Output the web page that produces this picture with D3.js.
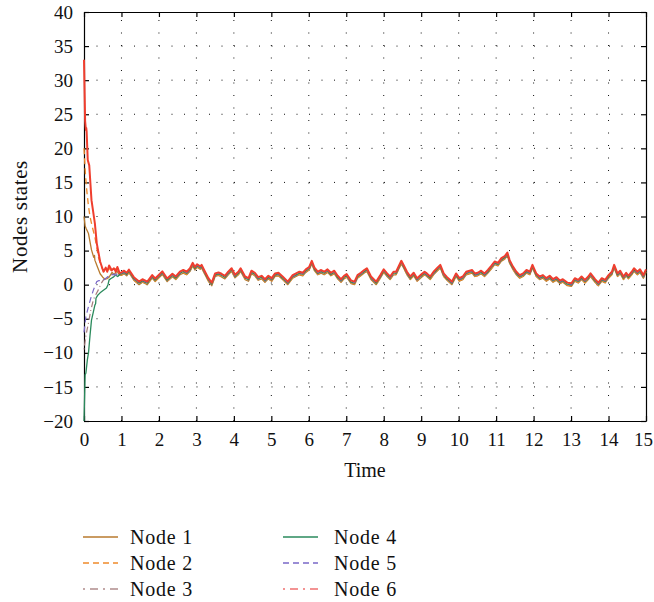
<!DOCTYPE html>
<html><head><meta charset="utf-8">
<script src="https://cdn.jsdelivr.net/npm/d3@7"></script>
<style>body{margin:0;background:#fff}</style>
</head><body>
<svg id="chart" width="654" height="602"></svg>
<script>
// ---------------- data ----------------
const xTickValues = [0,1,2,3,4,5,6,7,8,9,10,11,12,13,14,15];
const yTickValues = [-20,-15,-10,-5,0,5,10,15,20,25,30,35,40];
const nodeNames = ["Node 1","Node 2","Node 3","Node 4","Node 5","Node 6"];

// transient part of each node, [time, state]
const node1Start = [[0,10],[0.03,8.6],[0.06,8.2],[0.12,7.5],[0.2,5.1],[0.26,4.0],[0.28,4.3],[0.29,3.6],[0.36,2.6],[0.43,1.6],[0.5,1.1],[0.56,0.8],[0.62,0.9],[0.67,1.1],[0.75,1.8],[0.8,1.5],[0.88,2.0],[0.95,1.4]];
const node2Start = [[0,20],[0.04,16],[0.08,13.5],[0.12,11.5],[0.16,10],[0.22,8.5],[0.29,7],[0.34,5.5],[0.38,4.1],[0.45,2.8],[0.52,2.0],[0.6,1.8],[0.67,2.4],[0.74,1.9],[0.8,2.2],[0.88,2.4],[0.95,1.6]];
const node3Start = [[0,-9.5],[0.05,-7.5],[0.12,-5.6],[0.18,-3.8],[0.25,-2.2],[0.32,-1.4],[0.38,-0.8],[0.45,0.1],[0.52,0.7],[0.6,1.0],[0.67,1.3],[0.75,1.5],[0.82,1.6],[0.9,1.7],[0.95,1.5]];
const node4Start = [[0,-20],[0.03,-13.2],[0.05,-13],[0.06,-12.5],[0.09,-11],[0.12,-10],[0.16,-7.5],[0.2,-5.2],[0.25,-4],[0.29,-3],[0.31,-2.8],[0.32,-2],[0.36,-1.6],[0.43,-1.2],[0.5,-0.9],[0.6,-0.5],[0.64,0],[0.67,0.7],[0.72,0.9],[0.78,1.1],[0.84,1.4],[0.9,1.2],[0.97,1.6]];
const node5Start = [[0,-7],[0.05,-4.7],[0.12,-3.2],[0.18,-2.0],[0.25,-0.8],[0.34,0.45],[0.4,0.6],[0.48,0.5],[0.55,0.8],[0.62,1.1],[0.7,1.3],[0.78,1.5],[0.85,1.4],[0.92,1.7]];
const node6Start = [[0,33],[0.03,24],[0.05,22.7],[0.06,23],[0.07,22.5],[0.1,18.3],[0.14,17.5],[0.2,12.4],[0.29,9.0],[0.34,6.1],[0.43,3.4],[0.52,1.9],[0.58,2.5],[0.62,1.9],[0.67,2.8],[0.74,2.1],[0.8,2.4],[0.85,1.9],[0.89,2.6],[0.95,1.7]];

// converged trajectory (upper edge of the band = Node 6), [time, state]
const consensusTail = [[1.0,1.8],[1.07,2.05],[1.14,1.75],[1.2,2.2],[1.33,1.1],[1.47,0.45],[1.56,0.8],[1.69,0.45],[1.82,1.4],[1.9,0.9],[2.09,1.95],[2.22,0.9],[2.36,1.6],[2.45,1.2],[2.56,1.9],[2.65,2.15],[2.74,1.9],[2.83,2.4],[2.9,3.2],[2.96,2.6],[3.02,3.0],[3.1,2.7],[3.14,2.9],[3.23,1.9],[3.32,0.95],[3.41,0.3],[3.5,1.65],[3.59,1.8],[3.67,1.6],[3.76,1.3],[3.85,1.9],[3.94,2.4],[4.03,1.45],[4.12,1.9],[4.18,2.4],[4.3,1.2],[4.39,0.95],[4.47,2.05],[4.56,1.75],[4.65,1.1],[4.74,1.3],[4.83,0.8],[4.92,1.3],[5.01,0.95],[5.1,1.65],[5.19,1.75],[5.3,1.2],[5.44,0.45],[5.57,1.4],[5.66,1.65],[5.75,1.9],[5.84,1.75],[5.92,2.25],[6.01,2.6],[6.08,3.5],[6.15,2.5],[6.24,1.9],[6.33,2.15],[6.41,1.9],[6.5,2.25],[6.59,1.75],[6.68,2.05],[6.77,1.3],[6.86,0.8],[6.94,1.3],[7.01,1.55],[7.13,0.6],[7.22,0.45],[7.3,1.4],[7.39,1.75],[7.48,2.15],[7.55,2.4],[7.66,1.2],[7.8,0.45],[7.91,1.4],[8.0,2.25],[8.09,1.65],[8.17,1.2],[8.26,1.9],[8.33,1.9],[8.4,2.7],[8.47,3.5],[8.53,2.9],[8.62,1.9],[8.71,1.2],[8.8,1.75],[8.89,0.95],[8.98,1.4],[9.09,1.9],[9.15,1.65],[9.24,1.2],[9.33,1.9],[9.42,2.4],[9.51,2.9],[9.6,1.65],[9.69,1.1],[9.82,0.45],[9.93,1.65],[10.02,0.95],[10.11,1.2],[10.2,1.9],[10.29,2.05],[10.36,2.15],[10.43,1.65],[10.51,1.75],[10.6,2.05],[10.69,1.65],[10.78,2.15],[10.87,2.75],[10.96,3.4],[11.05,3.2],[11.14,3.9],[11.23,4.2],[11.3,4.7],[11.36,3.6],[11.45,2.65],[11.54,1.9],[11.63,1.4],[11.72,1.65],[11.81,2.15],[11.9,1.9],[11.97,2.9],[12.07,1.65],[12.16,1.2],[12.25,1.4],[12.34,0.95],[12.43,1.3],[12.52,0.8],[12.61,1.1],[12.7,0.6],[12.78,0.8],[12.9,0.3],[13.01,0.2],[13.1,0.95],[13.19,0.7],[13.28,1.2],[13.37,0.7],[13.46,1.2],[13.52,1.65],[13.64,0.8],[13.73,0.3],[13.82,0.95],[13.91,0.7],[14.0,1.4],[14.09,1.9],[14.15,2.9],[14.24,1.65],[14.31,2.05],[14.4,1.2],[14.47,1.75],[14.53,1.3],[14.62,1.9],[14.68,2.4],[14.77,1.9],[14.84,2.25],[14.93,1.4],[15.0,2.25]];
// how far each node sits below Node 6 inside the converged band
const bandGap = [0.45,0.38,0.3,0.22,0.12,0];

// ---------------- styles ----------------
const colors = ["#b87a2e","#f08a2a","#a67c7c","#2a8a5c","#7a68c8","#ef3e2e"];
const legendColors = ["#b87a2e","#f08a2a","#b08c8c","#2a8a5c","#7a68c8","#f07070"];
const dashes = [null,"6,4","1,3,6,3",null,"6,4",null];
const legendDashes = [null,"6,4","2,5,8,5",null,"6,4","2,5,8,5"];
const widths = [1.3,1.3,1.2,1.3,1.2,2.0];

const starts = [node1Start,node2Start,node3Start,node4Start,node5Start,node6Start];
const series = starts.map((s,i)=> s.concat(consensusTail.map(([t,v])=>[t, v-bandGap[i]])));

const svg = d3.select("#chart");
svg.append("rect").attr("width",654).attr("height",602).attr("fill","#fff");
const L=84,R=646,T=12,B=421;
const x = d3.scaleLinear().domain([0,15]).range([L,R]);
const y = d3.scaleLinear().domain([-20,40]).range([B,T]);
const font = "'Liberation Serif','Times New Roman',serif";

// grid
const grid = svg.append("g").attr("stroke","#111").attr("stroke-width",1).attr("stroke-dasharray","1,11.5");
xTickValues.slice(1,-1).forEach(v=>{
  grid.append("line").attr("x1",x(v)).attr("x2",x(v)).attr("y1",B).attr("y2",T);
});
yTickValues.slice(1,-1).forEach(v=>{
  grid.append("line").attr("x1",L).attr("x2",R).attr("y1",y(v)).attr("y2",y(v));
});

// axes (box with inward ticks on all sides)
const axB = d3.axisBottom(x).tickValues(xTickValues).tickSizeInner(-5).tickSizeOuter(0).tickPadding(12).tickFormat(d3.format("d"));
const axT = d3.axisTop(x).tickValues(xTickValues).tickSizeInner(-5).tickSizeOuter(0).tickFormat("");
const axL = d3.axisLeft(y).tickValues(yTickValues).tickSizeInner(-5).tickSizeOuter(0).tickPadding(11).tickFormat(d3.format("d"));
const axR = d3.axisRight(y).tickValues(yTickValues).tickSizeInner(-5).tickSizeOuter(0).tickFormat("");
const gB = svg.append("g").attr("transform",`translate(0,${B})`).call(axB);
const gT = svg.append("g").attr("transform",`translate(0,${T})`).call(axT);
const gL = svg.append("g").attr("transform",`translate(${L},0)`).call(axL);
const gR = svg.append("g").attr("transform",`translate(${R},0)`).call(axR);
[gB,gT,gL,gR].forEach(g=>{
  g.selectAll("path").attr("stroke","#000").attr("stroke-width",1.2);
  g.selectAll("line").attr("stroke","#000").attr("stroke-width",1.2);
  g.selectAll("text").attr("font-family",font).attr("font-size",19).attr("fill","#111");
});
gB.selectAll(".tick text").filter(d=>d===15).attr("dx",-3);

// lines (drawn over the axis box, like the reference)
const line = d3.line().x(d=>x(d[0])).y(d=>y(d[1]));
const plot = svg.append("g");
series.forEach((s,i)=>{
  plot.append("path").datum(s).attr("d",line).attr("fill","none")
    .attr("stroke",colors[i]).attr("stroke-width",widths[i])
    .attr("stroke-linejoin","round")
    .attr("stroke-dasharray",dashes[i]);
});

// axis titles
svg.append("text").attr("x",(L+R)/2).attr("y",477).attr("text-anchor","middle")
  .attr("font-family",font).attr("font-size",20).attr("fill","#111").text("Time");
svg.append("text").attr("transform",`translate(27,${(T+B)/2}) rotate(-90)`).attr("text-anchor","middle")
  .attr("font-family",font).attr("font-size",21).attr("letter-spacing","0.6px").attr("fill","#111").text("Nodes states");

// legend
const legX = [83,283], legTextX=[130,334], legY=[537,563,589];
nodeNames.forEach((n,i)=>{
  const col = Math.floor(i/3), row = i%3;
  const g = svg.append("g");
  g.append("line").attr("x1",legX[col]).attr("x2",legX[col]+35).attr("y1",legY[row]).attr("y2",legY[row])
    .attr("stroke",legendColors[i]).attr("stroke-width",1.3).attr("stroke-dasharray",legendDashes[i]);
  g.append("text").attr("x",legTextX[col]).attr("y",legY[row]).attr("dy","0.35em")
    .attr("font-family",font).attr("font-size",20).attr("letter-spacing","0.8px").attr("fill","#111").text(n);
});
</script>
</body></html>
